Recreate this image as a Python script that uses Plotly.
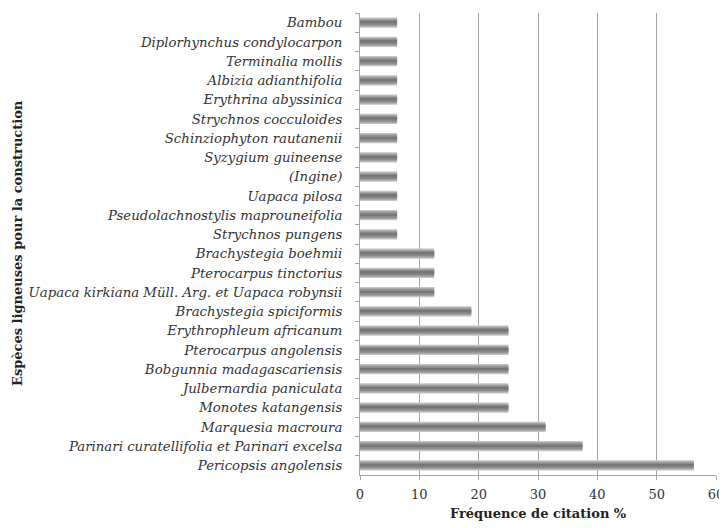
import plotly.graph_objects as go

species = [
    "Bambou",
    "Diplorhynchus condylocarpon",
    "Terminalia mollis",
    "Albizia adianthifolia",
    "Erythrina abyssinica",
    "Strychnos cocculoides",
    "Schinziophyton rautanenii",
    "Syzygium guineense",
    "(Ingine)",
    "Uapaca pilosa",
    "Pseudolachnostylis maprouneifolia",
    "Strychnos pungens",
    "Brachystegia boehmii",
    "Pterocarpus tinctorius",
    "Uapaca kirkiana Müll. Arg. et Uapaca robynsii",
    "Brachystegia spiciformis",
    "Erythrophleum africanum",
    "Pterocarpus angolensis",
    "Bobgunnia madagascariensis",
    "Julbernardia paniculata",
    "Monotes katangensis",
    "Marquesia macroura",
    "Parinari curatellifolia et Parinari excelsa",
    "Pericopsis angolensis",
]
frequency = [
    6.25, 6.25, 6.25, 6.25, 6.25, 6.25, 6.25, 6.25, 6.25, 6.25, 6.25, 6.25,
    12.5, 12.5, 12.5,
    18.75,
    25, 25, 25, 25, 25,
    31.25, 37.5, 56.25,
]
x_ticks = [0, 10, 20, 30, 40, 50, 60]
x_title = "Fréquence de citation %"
y_title = "Espèces ligneuses pour la construction"

# the page body adds an 8px offset, so the figure is drawn 8px smaller
OFF = 8
W, H = 727 - OFF, 528 - OFF
ML, MR, MT, MB = 360 - OFF, 11, 13 - OFF, 53
PW, PH = W - ML - MR, H - MT - MB

fig = go.Figure()
# layered bars to imitate the cylindrical shading
for w, c in [(0.52, "#c4c4c4"), (0.4, "#a3a3a3"), (0.26, "#8a8a8a"), (0.1, "#777777")]:
    fig.add_trace(go.Bar(
        x=frequency, y=species, orientation="h", width=w,
        marker=dict(color=c, line=dict(width=0)),
        hoverinfo="x+y", showlegend=False,
    ))

fig.update_layout(
    width=W, height=H,
    barmode="overlay",
    paper_bgcolor="white", plot_bgcolor="white",
    margin=dict(l=ML, r=MR, t=MT, b=MB, autoexpand=False),
    font=dict(family="DejaVu Serif", color="#333333"),
    annotations=[
        dict(text="<b>" + x_title + "</b>", xref="paper", yref="paper",
             x=0.5, y=-(513 - 475) / PH, xanchor="center", yanchor="middle",
             showarrow=False, font=dict(family="DejaVu Serif", size=13, color="#222222")),
        dict(text="<b>" + y_title + "</b>", xref="paper", yref="paper",
             x=-(360 - 17) / PW, y=1 - (243 - 13) / PH, xanchor="center", yanchor="middle",
             textangle=-90, showarrow=False,
             font=dict(family="DejaVu Serif", size=13, color="#222222")),
    ],
)
fig.update_xaxes(
    range=[0, 60], tickvals=x_ticks, automargin=False,
    showgrid=True, gridcolor="#a6a6a6", gridwidth=1,
    showline=True, linecolor="#a6a6a6", linewidth=1,
    ticks="outside", ticklen=4, tickcolor="#a6a6a6",
    tickfont=dict(family="DejaVu Serif", size=13, color="#333333"),
    ticklabelstandoff=3,
    zeroline=False,
)
fig.update_yaxes(
    type="category", categoryorder="array", categoryarray=species,
    autorange="reversed", automargin=False,
    showline=True, linecolor="#a6a6a6", linewidth=1,
    ticks="outside", ticklen=4, tickcolor="#a6a6a6", tickson="boundaries",
    showgrid=False,
    tickfont=dict(family="DejaVu Serif", size=13.3, color="#333333", style="italic"),
    ticklabelstandoff=14,
)

fig.write_html("out.html")
